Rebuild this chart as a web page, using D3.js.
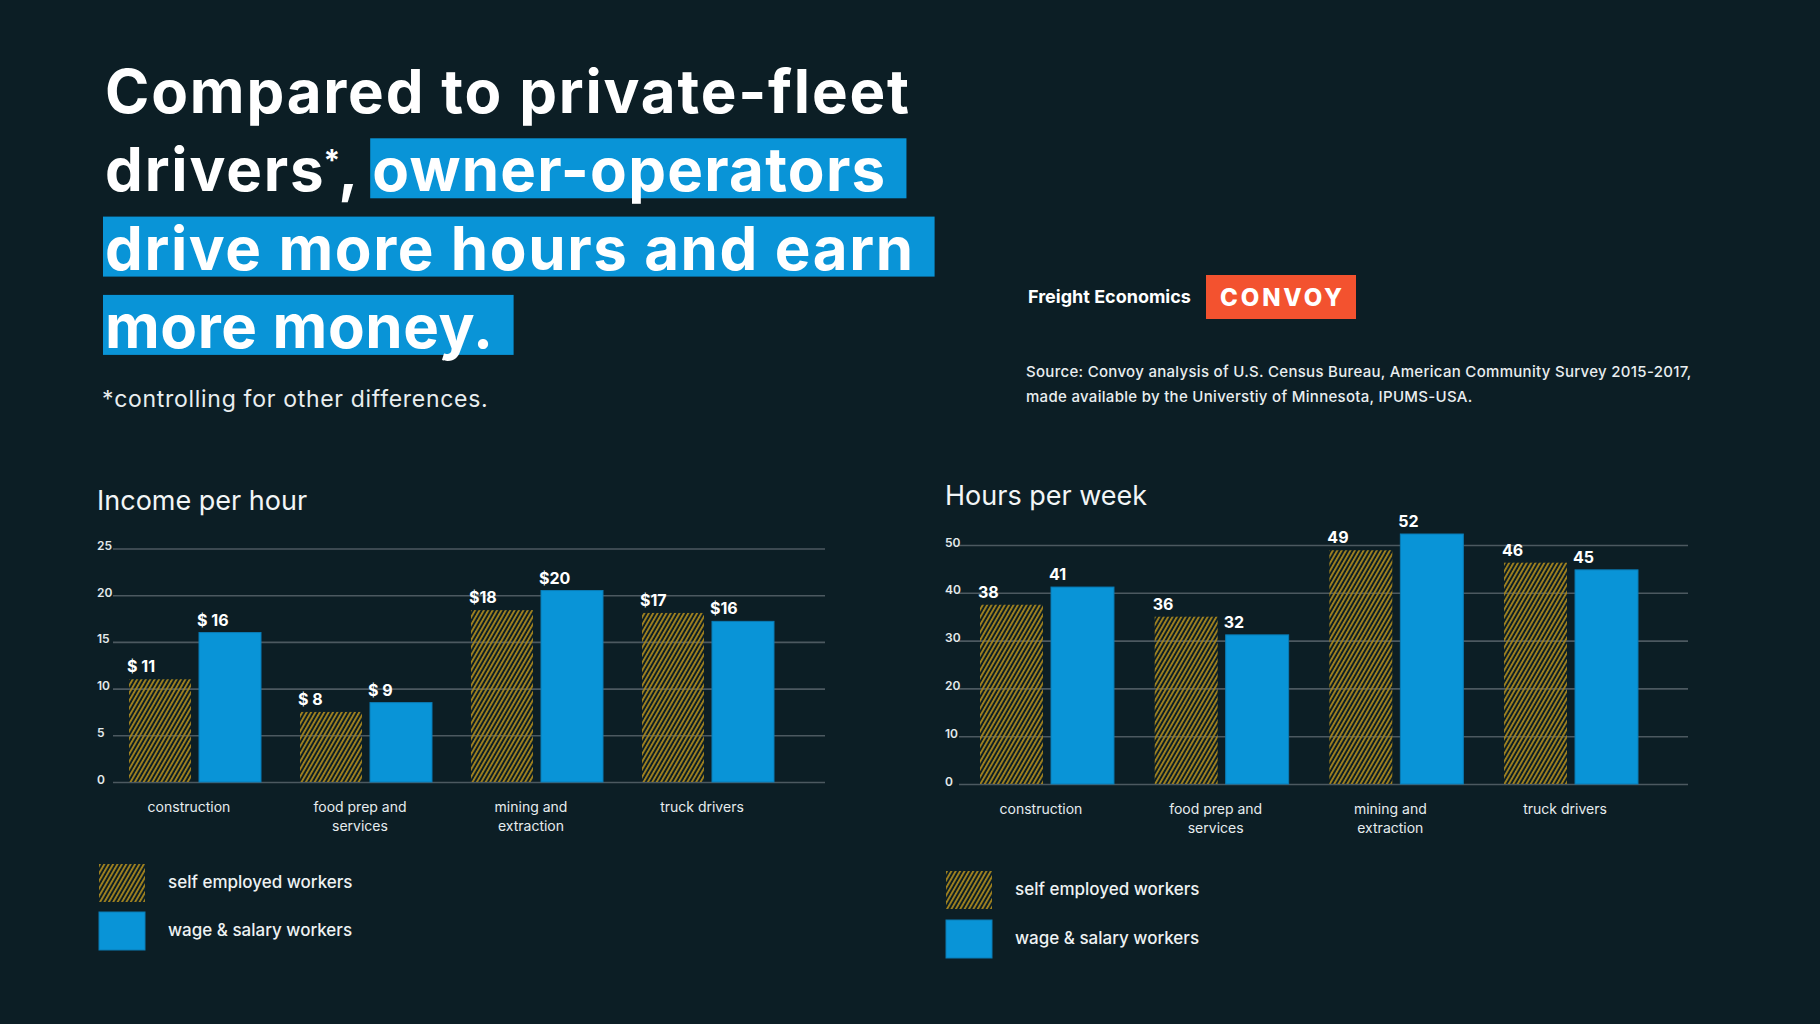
<!DOCTYPE html>
<html>
<head>
<meta charset="utf-8">
<script src="https://cdn.jsdelivr.net/npm/d3@7"></script>
<style>
  body { margin: 0; background: #0c1e25; }
  svg { display: block; font-family: Inter, 'Noto Sans', sans-serif; }
</style>
</head>
<body>
<svg id="chart"></svg>
<script>
// ---- data ----
const categories = ['construction', 'food prep and services', 'mining and extraction', 'truck drivers'];
const categoryLines = [['construction'], ['food prep and', 'services'], ['mining and', 'extraction'], ['truck drivers']];
const seriesKeys = ['self', 'wage'];
const seriesNames = ['self employed workers', 'wage & salary workers'];

const incomeSelf = [11, 7.5, 18.4, 18.1];
const incomeWage = [16, 8.5, 20.5, 17.2];
const incomeSelfLabels = ['$ 11', '$ 8', '$18', '$17'];
const incomeWageLabels = ['$ 16', '$ 9', '$20', '$16'];
const incomeTicks = [0, 5, 10, 15, 20, 25];

const hoursSelf = [37.5, 35, 48.9, 46.3];
const hoursWage = [41.2, 31.2, 52.3, 44.8];
const hoursSelfLabels = ['38', '36', '49', '46'];
const hoursWageLabels = ['41', '32', '52', '45'];
const hoursTicks = [0, 10, 20, 30, 40, 50];

const headlineLines = [
    ['Compared to private-fleet'],
    ['drivers', '*', ',', 'owner-operators'],
    ['drive more hours and earn'],
    ['more money.']
];
const highlighted = ['owner-operators', 'drive more hours and earn', 'more money.'];
const footnote = '*controlling for other differences.';
const sourceLines = [
    'Source: Convoy analysis of U.S. Census Bureau, American Community Survey 2015-2017,',
    'made available by the Universtiy of Minnesota, IPUMS-USA.'
];

// widths (px) the headline pieces span in the original layout
const headlineFit = {
    'Compared to private-fleet': 804,
    'owner-operators': 513,
    'drive more hours and earn': 808,
    'more money.': 388
};

const BLUE = '#0994d7';
const GOLD = '#a4841f';

const svg = d3.select('#chart').attr('width', 1820).attr('height', 1024);
svg.append('rect').attr('width', 1820).attr('height', 1024).attr('fill', '#0c1e25');

// hatch used by the self employed bars
svg.append('defs').append('pattern')
    .attr('id', 'hatch')
    .attr('patternUnits', 'userSpaceOnUse')
    .attr('width', 3.8)
    .attr('height', 10)
    .attr('patternTransform', 'rotate(30)')
    .append('rect')
    .attr('width', 1.8)
    .attr('height', 10)
    .attr('fill', GOLD);

// ---- headline ----
const boxG = svg.append('g');
const headG = svg.append('g')
    .attr('fill', '#ffffff')
    .attr('font-weight', 700);

function naturalWidth(str) {
    const t = headG.append('text').attr('font-size', 60).text(str);
    const w = t.node().getComputedTextLength();
    t.remove();
    return w;
}

const first = headlineLines[0][0];
const baseSpacing = (headlineFit[first] - naturalWidth(first)) / (first.length - 1);

headlineLines.forEach((segs, i) => {
    const base = 113 + i * 78.3;
    let x = 105;
    segs.forEach(s => {
        const isStar = s === '*';
        const isComma = s === ',';
        let ls = baseSpacing;
        if (headlineFit[s]) ls = (headlineFit[s] - naturalWidth(s)) / (s.length - 1);
        if (isStar || isComma) ls = 0;
        if (isStar) x -= 2;
        const t = headG.append('text')
            .attr('x', x)
            .attr('y', isStar ? base - 20 : base)
            .attr('font-size', isStar ? 30 : 60)
            .attr('letter-spacing', ls)
            .text(s);
        const w = t.node().getComputedTextLength();
        if (highlighted.includes(s)) {
            boxG.append('rect')
                .attr('x', x - 2)
                .attr('y', base - 53)
                .attr('width', w + 22)
                .attr('height', 60)
                .attr('fill', BLUE);
        }
        x += w + (isStar ? -2 : isComma ? 14 : 0);
    });
});

svg.append('text')
    .attr('x', 102)
    .attr('y', 407)
    .attr('font-size', 23)
    .attr('letter-spacing', 0.7)
    .attr('fill', '#e9eef0')
    .text(footnote);

// ---- brand + source ----
svg.append('text')
    .attr('x', 1028)
    .attr('y', 303)
    .attr('font-size', 18)
    .attr('font-weight', 700)
    .attr('fill', '#ffffff')
    .text('Freight Economics');

svg.append('rect')
    .attr('x', 1206)
    .attr('y', 275)
    .attr('width', 150)
    .attr('height', 44)
    .attr('fill', '#f3522f');

svg.append('text')
    .attr('x', 1220)
    .attr('y', 306)
    .attr('font-size', 24)
    .attr('font-weight', 800)
    .attr('fill', '#ffffff')
    .attr('textLength', 122)
    .attr('lengthAdjust', 'spacing')
    .text('CONVOY');

svg.append('g').selectAll('text')
    .data(sourceLines)
    .join('text')
    .attr('x', 1026)
    .attr('y', (d, i) => 377 + i * 25)
    .attr('font-size', 15)
    .attr('font-weight', 500)
    .attr('letter-spacing', 0.3)
    .attr('fill', '#e9eef0')
    .text(d => d);

// ---- charts ----
function drawChart(cfg) {
    const g = svg.append('g');

    const y = d3.scaleLinear().domain([0, cfg.max]).range(cfg.yRange);
    const x0 = d3.scaleBand().domain(categories).range(cfg.xRange).paddingInner(cfg.pad).paddingOuter(0);
    const x1 = d3.scaleBand().domain(seriesKeys).range([0, x0.bandwidth()]).paddingInner(cfg.subPad);

    g.append('text')
        .attr('x', cfg.titleX)
        .attr('y', cfg.titleY)
        .attr('font-size', 27)
        .attr('fill', '#f2f5f6')
        .text(cfg.title);

    // gridlines + tick labels
    const axis = d3.axisLeft(y)
        .tickValues(cfg.ticks)
        .tickSize(-(cfg.gridX[1] - cfg.gridX[0]))
        .tickFormat(d3.format('d'));

    const ax = g.append('g')
        .attr('transform', `translate(${cfg.gridX[0]},0)`)
        .call(axis)
        .attr('font-family', null)
        .attr('font-size', null);
    ax.select('.domain').remove();
    ax.selectAll('.tick line')
        .attr('stroke', '#4c5960')
        .attr('stroke-width', 1.6);
    ax.selectAll('.tick text')
        .attr('x', cfg.tickX - cfg.gridX[0])
        .attr('dy', 1)
        .attr('text-anchor', 'start')
        .attr('font-size', 12)
        .attr('font-weight', 600)
        .attr('fill', '#e3e9eb');

    // bars
    const rows = categories.map((c, i) => ({
        cat: c,
        values: [
            { key: 'self', v: cfg.self[i], label: cfg.selfLabels[i] },
            { key: 'wage', v: cfg.wage[i], label: cfg.wageLabels[i] }
        ]
    }));

    const grp = g.selectAll('.grp')
        .data(rows)
        .join('g')
        .attr('class', 'grp')
        .attr('transform', d => `translate(${x0(d.cat)},0)`);

    grp.selectAll('rect')
        .data(d => d.values)
        .join('rect')
        .attr('x', d => x1(d.key))
        .attr('y', d => y(d.v))
        .attr('width', x1.bandwidth())
        .attr('height', d => y(0) - y(d.v))
        .attr('fill', d => d.key === 'self' ? 'url(#hatch)' : BLUE)
        .attr('stroke', d => d.key === 'self' ? 'none' : '#0a7cb6')
        .attr('stroke-width', 1);

    grp.selectAll('text')
        .data(d => d.values)
        .join('text')
        .attr('x', d => x1(d.key) - 2)
        .attr('y', d => y(d.v) - 7)
        .attr('font-size', 16)
        .attr('font-weight', 700)
        .attr('fill', '#ffffff')
        .text(d => d.label);

    // category labels
    g.selectAll('.cat')
        .data(categoryLines)
        .join('text')
        .attr('class', 'cat')
        .attr('text-anchor', 'middle')
        .attr('font-size', 14)
        .attr('fill', '#e6ecee')
        .each(function (lines, i) {
            const cx = x0(categories[i]) + x0.bandwidth() / 2 + cfg.catShift;
            d3.select(this).selectAll('tspan')
                .data(lines)
                .join('tspan')
                .attr('x', cx)
                .attr('y', (d, j) => y(0) + 30 + j * 19)
                .text(d => d);
        });

    // legend
    const lg = g.selectAll('.lg')
        .data(seriesNames)
        .join('g')
        .attr('class', 'lg')
        .attr('transform', (d, i) => `translate(${cfg.legendX},${cfg.legendY[i]})`);

    lg.append('rect')
        .attr('width', 46)
        .attr('height', 38)
        .attr('fill', (d, i) => i ? BLUE : 'url(#hatch)')
        .attr('stroke', (d, i) => i ? '#0a7cb6' : 'none');

    lg.append('text')
        .attr('x', 69)
        .attr('y', 24)
        .attr('font-size', 17)
        .attr('font-weight', 500)
        .attr('fill', '#eef2f3')
        .text(d => d);
}

drawChart({
    title: 'Income per hour',
    titleX: 97, titleY: 510,
    max: 25, yRange: [782, 548.5],
    ticks: incomeTicks,
    gridX: [113, 825], tickX: 97,
    xRange: [129, 774], pad: 0.228, subPad: 0.114,
    self: incomeSelf, wage: incomeWage,
    selfLabels: incomeSelfLabels, wageLabels: incomeWageLabels,
    catShift: -6,
    legendX: 99, legendY: [864, 912]
});

drawChart({
    title: 'Hours per week',
    titleX: 945, titleY: 505,
    max: 50, yRange: [784, 545],
    ticks: hoursTicks,
    gridX: [959, 1688], tickX: 945,
    xRange: [980, 1638], pad: 0.233, subPad: 0.113,
    self: hoursSelf, wage: hoursWage,
    selfLabels: hoursSelfLabels, wageLabels: hoursWageLabels,
    catShift: -6,
    legendX: 946, legendY: [871, 920]
});
</script>
</body>
</html>
